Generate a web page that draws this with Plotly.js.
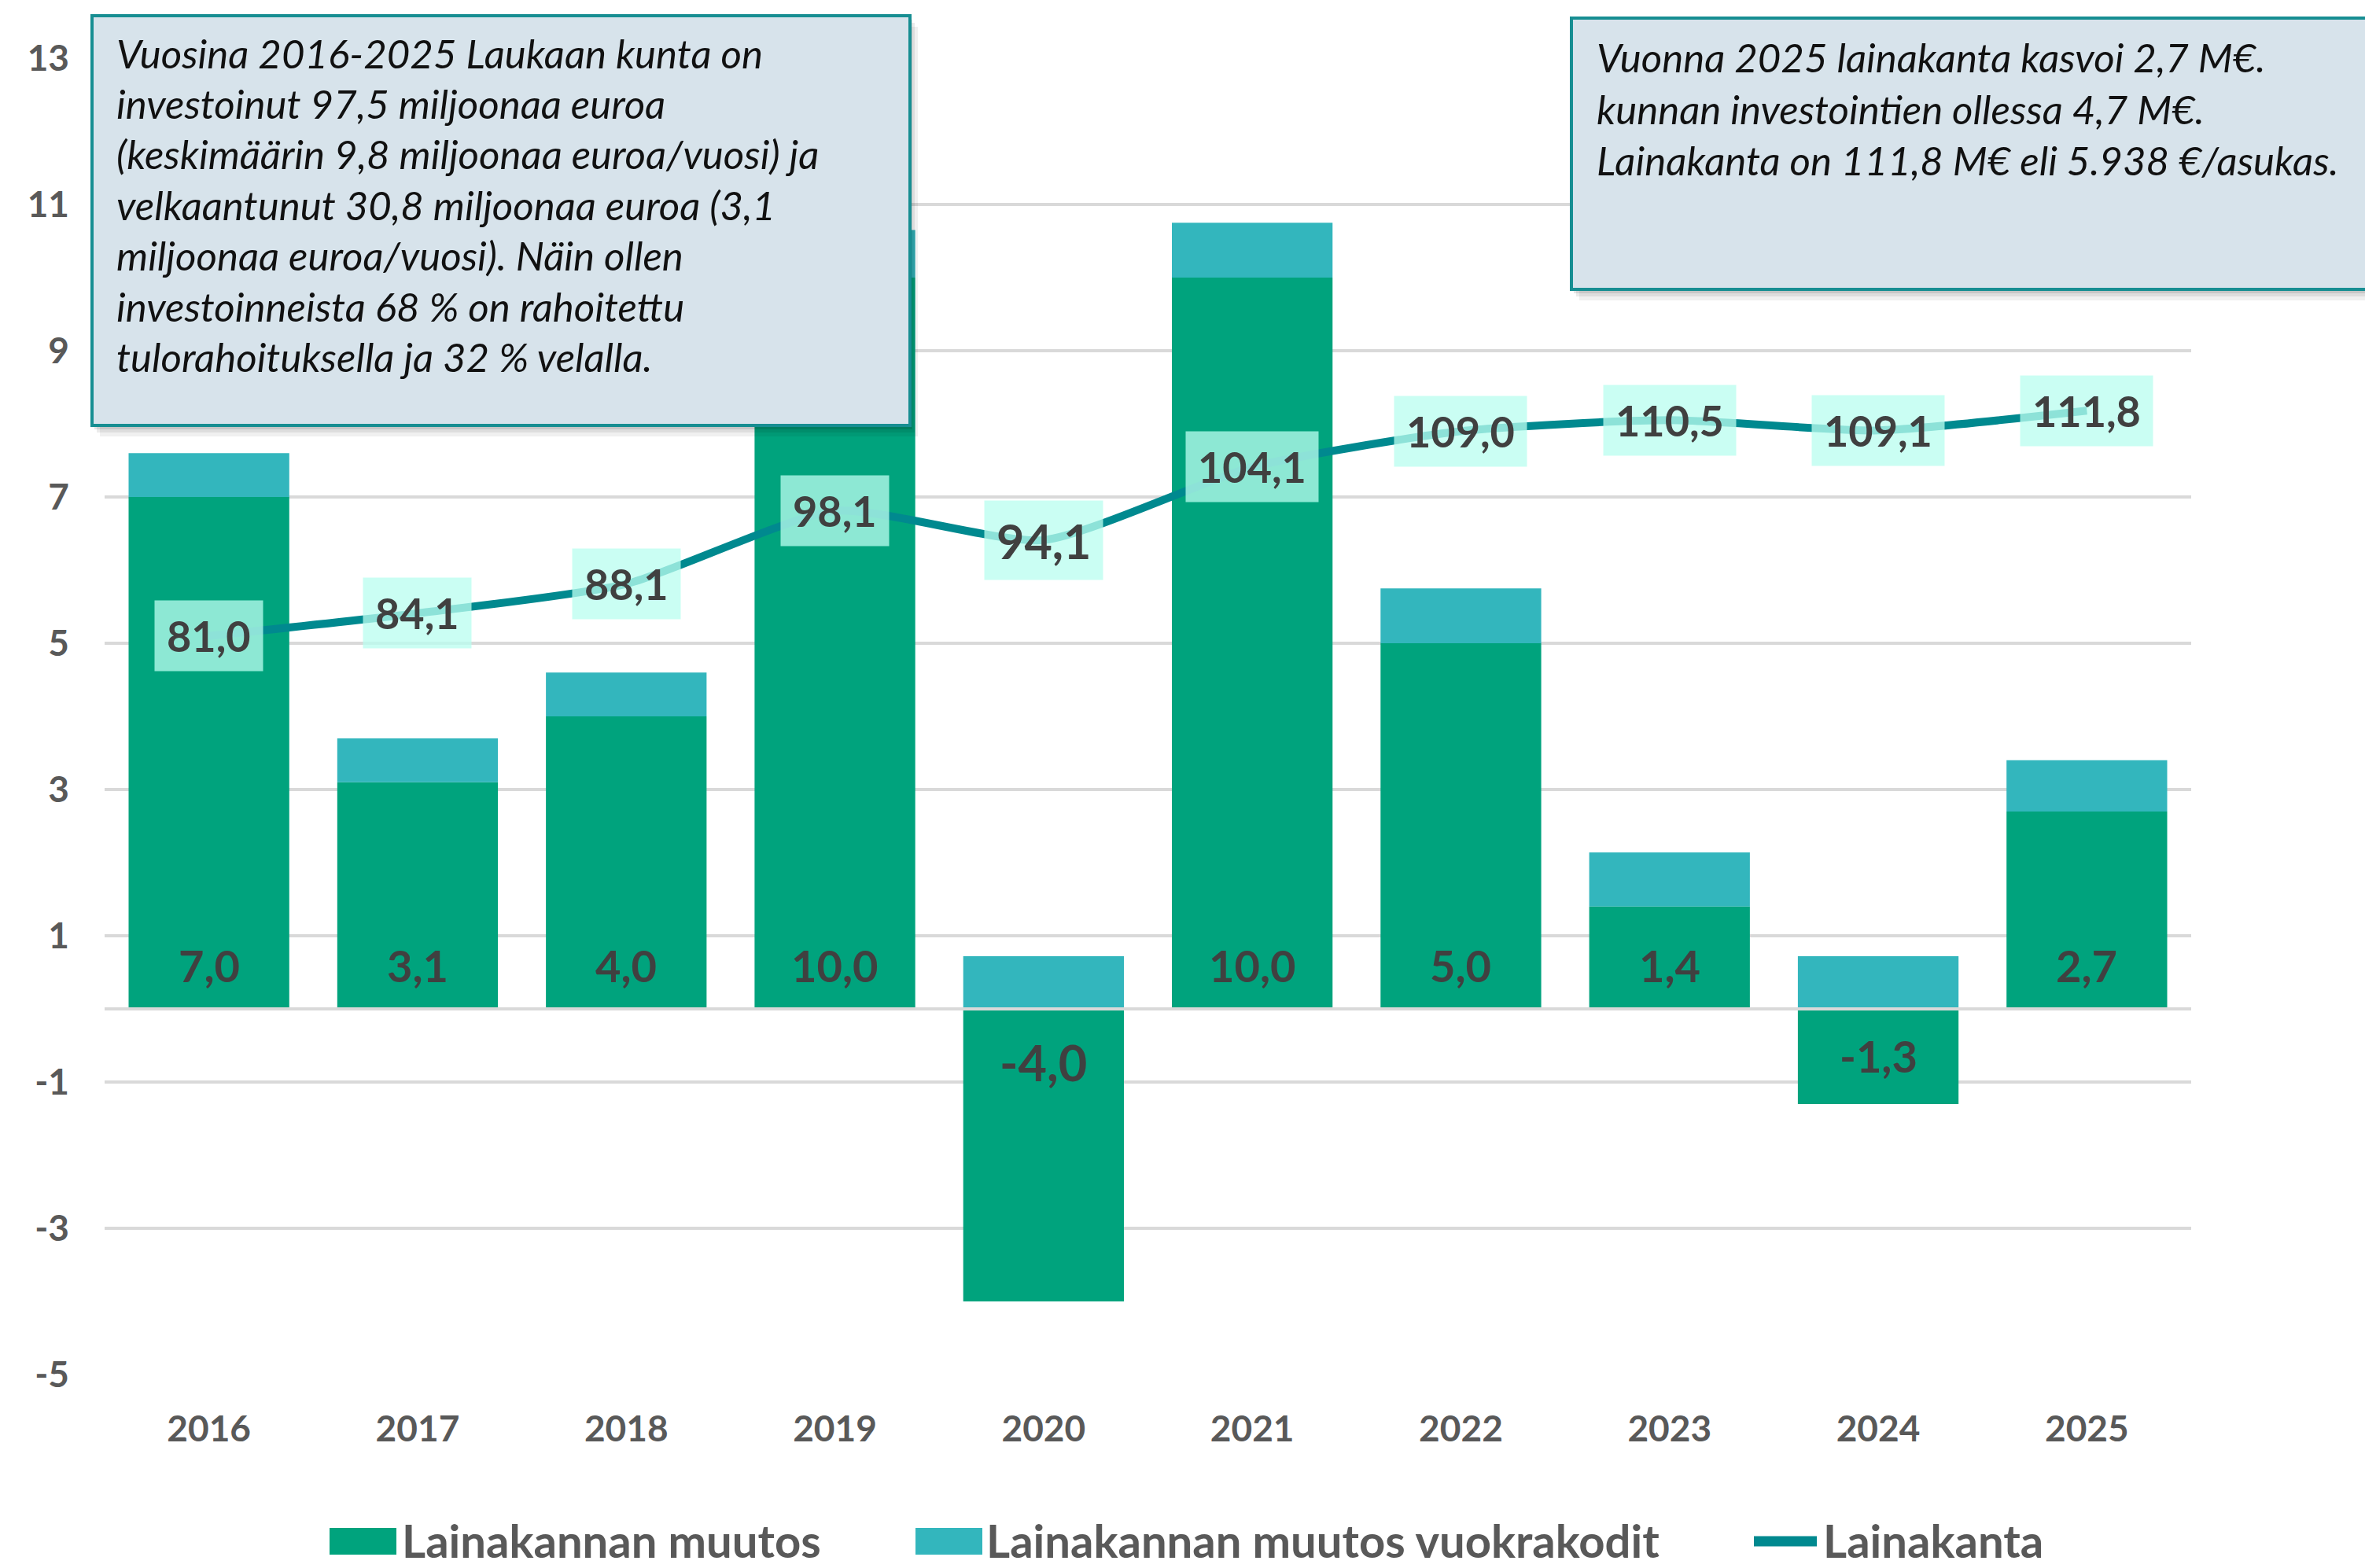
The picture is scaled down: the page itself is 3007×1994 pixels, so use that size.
<!DOCTYPE html>
<html>
<head>
<meta charset="utf-8">
<script src="https://cdn.plot.ly/plotly-3.0.1.min.js"></script>
<style>html,body{margin:0;padding:0;background:#ffffff;}</style>
</head>
<body>
<div id="chart" style="width:3007px;height:1994px;"></div>
<script>
// ---------- DATA ----------
const years = ['2016','2017','2018','2019','2020','2021','2022','2023','2024','2025'];
const loanChange = [7.0, 3.1, 4.0, 10.0, -4.0, 10.0, 5.0, 1.4, -1.3, 2.7];
const loanChangeRental = [0.6, 0.6, 0.6, 0.65, 0.72, 0.75, 0.75, 0.74, 0.72, 0.7];
const loanStock = [81.0, 84.1, 88.1, 98.1, 94.1, 104.1, 109.0, 110.5, 109.1, 111.8];
const yTickVals = [-5, -3, -1, 1, 3, 5, 7, 9, 11, 13];
const yTickText = ['-5', '-3', '-1', '1', '3', '5', '7', '9', '11', '13'];
const seriesNames = ['Lainakannan muutos', 'Lainakannan muutos vuokrakodit', 'Lainakanta'];
const note1Lines = [
  'Vuosina 2016-2025 Laukaan kunta on',
  'investoinut 97,5 miljoonaa euroa',
  '(keskimäärin 9,8 miljoonaa euroa/vuosi) ja',
  'velkaantunut 30,8 miljoonaa euroa (3,1',
  'miljoonaa euroa/vuosi). Näin ollen',
  'investoinneista 68 % on rahoitettu',
  'tulorahoituksella ja 32 % velalla.'
];
const note2Lines = [
  'Vuonna 2025 lainakanta kasvoi 2,7 M€.',
  'kunnan investointien ollessa 4,7 M€.',
  'Lainakanta on 111,8 M€ eli 5.938 €/asukas.'
];
const emphasized = [false, false, false, false, true, false, false, false, false, false];

// ---------- STYLE ----------
const W = 3007, H = 1994;
const M = {l: 133, r: 221, t: 74, b: 246};
const PW = W - M.l - M.r, PH = H - M.t - M.b;
const px = X => (X - M.l) / PW;
const py = Y => (H - M.b - Y) / PH;
const FONT = "Lato, 'Open Sans', sans-serif";
const GREEN = '#00A37D', TEAL = '#33B6BD', LINE = '#00898F';
const fmt = v => v.toFixed(1).replace('.', ',');

const traces = [
  {type: 'bar', name: seriesNames[0], x: years, y: loanChange,
   marker: {color: GREEN, line: {width: 0}}, showlegend: false, hoverinfo: 'skip'},
  {type: 'bar', name: seriesNames[1], x: years, y: loanChangeRental,
   marker: {color: TEAL, line: {width: 0}}, showlegend: false, hoverinfo: 'skip'},
  {type: 'scatter', mode: 'lines', name: seriesNames[2], x: years, y: loanStock, yaxis: 'y2',
   line: {color: LINE, width: 10, shape: 'spline', smoothing: 0.6}, showlegend: false, hoverinfo: 'skip'}
];

const annotations = [];
const shapes = [];

// line labels (category axis positions are serial indices)
loanStock.forEach((v, i) => {
  const big = emphasized[i];
  annotations.push({
    x: i, y: v, xref: 'x', yref: 'y2', text: fmt(v), showarrow: false,
    font: {family: FONT, size: big ? 61 : 54, color: '#404040', weight: 'bold'},
    bgcolor: 'rgba(185,254,239,0.76)', borderpad: 15, height: big ? 70 : 59,
    xanchor: 'center', yanchor: 'middle'
  });
});

// bar labels (inside base)
loanChange.forEach((v, i) => {
  const big = emphasized[i];
  annotations.push({
    x: i, y: 0, xref: 'x', yref: 'y', text: fmt(v), showarrow: false,
    font: {family: FONT, size: big ? 63 : 56, color: '#404040', weight: 'bold'},
    xanchor: 'center', yanchor: 'middle',
    yshift: v >= 0 ? 56 : (big ? -67 : -59)
  });
});

// zero line above bars
shapes.push({type: 'line', xref: 'paper', yref: 'y', x0: 0, x1: 1, y0: 0, y1: 0,
  line: {color: '#D9D9D9', width: 4}, layer: 'above'});

// note boxes with soft shadow
function noteBox(x0, y0, x1, y1) {
  [[10, 14, 0.06], [6, 9, 0.08], [3, 5, 0.10]].forEach(([dx, dy, a]) => {
    shapes.push({type: 'rect', xref: 'paper', yref: 'paper',
      x0: px(x0 + dx), x1: px(x1 + dx), y0: py(y1 + dy), y1: py(y0 + dy),
      fillcolor: `rgba(0,0,0,${a})`, line: {width: 0}, layer: 'above'});
  });
  shapes.push({type: 'rect', xref: 'paper', yref: 'paper',
    x0: px(x0), x1: px(x1), y0: py(y1), y1: py(y0),
    fillcolor: '#D7E3EB', line: {color: '#178E92', width: 4}, layer: 'above'});
}
noteBox(117, 20, 1157, 541);
noteBox(1998, 23, 3040, 368);

function noteText(lines, xLeft, firstBaseline, step) {
  lines.forEach((t, k) => {
    annotations.push({
      xref: 'paper', yref: 'paper', x: px(xLeft), y: py(firstBaseline + k * step - 19),
      text: t, showarrow: false, xanchor: 'left', yanchor: 'middle', align: 'left',
      font: {family: FONT, size: 51, color: '#111111', style: 'italic'}
    });
  });
}
noteText(note1Lines, 146, 86, 64.5);
noteText(note2Lines, 2028, 92, 65);

// legend (drawn manually for large swatches)
const legY = 1960;
shapes.push({type: 'rect', xref: 'paper', yref: 'paper', x0: px(419), x1: px(504),
  y0: py(legY + 17), y1: py(legY - 17), fillcolor: GREEN, line: {width: 0}});
shapes.push({type: 'rect', xref: 'paper', yref: 'paper', x0: px(1164), x1: px(1249),
  y0: py(legY + 17), y1: py(legY - 17), fillcolor: TEAL, line: {width: 0}});
shapes.push({type: 'line', xref: 'paper', yref: 'paper', x0: px(2230), x1: px(2310),
  y0: py(legY), y1: py(legY), line: {color: LINE, width: 13}});
[[509, seriesNames[0]], [1252, seriesNames[1]], [2316, seriesNames[2]]].forEach(([x, t]) => {
  annotations.push({xref: 'paper', yref: 'paper', x: px(x), y: py(legY - 2), text: t,
    showarrow: false, xanchor: 'left', yanchor: 'middle',
    font: {family: FONT, size: 58, color: '#595959', weight: 'bold'}});
});

const tickFont = {family: FONT, size: 46, color: '#595959', weight: 'bold'};
const layout = {
  width: W, height: H,
  margin: M,
  paper_bgcolor: '#ffffff', plot_bgcolor: '#ffffff',
  barmode: 'relative', bargap: 0.23,
  showlegend: false,
  font: {family: FONT},
  xaxis: {type: 'category', range: [-0.5, 9.5], showgrid: false, zeroline: false, showline: false,
    ticks: '', tickfont: tickFont, ticklabelstandoff: 38, automargin: false, fixedrange: true},
  yaxis: {range: [-5, 13], tickvals: yTickVals, ticktext: yTickText, showgrid: true,
    gridcolor: '#D9D9D9', gridwidth: 3.5, zeroline: false, showline: false, ticks: '',
    tickfont: tickFont, ticklabelstandoff: 44, automargin: false, fixedrange: true},
  yaxis2: {overlaying: 'y', side: 'right', range: [-20, 160], visible: false, fixedrange: true},
  annotations: annotations,
  shapes: shapes
};

Plotly.newPlot('chart', traces, layout, {displayModeBar: false, staticPlot: true});
</script>
</body>
</html>
